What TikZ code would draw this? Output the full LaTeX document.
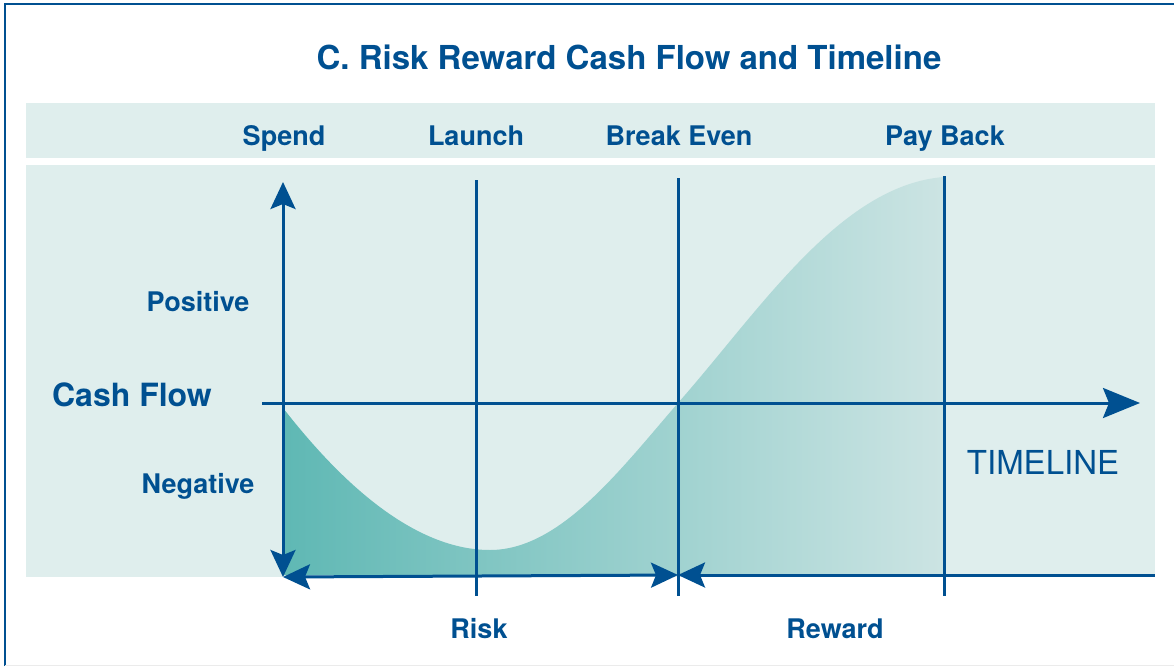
\documentclass[tikz,border=0pt]{standalone}
\usepackage{fontspec}
\setmainfont{TeX Gyre Heros}
\usetikzlibrary{arrows.meta,positioning}
\definecolor{cfblue}{RGB}{0,80,145}
\definecolor{cfband}{RGB}{223,238,237}
\definecolor{cfdark}{RGB}{95,184,180}
\definecolor{cflight}{RGB}{204,228,227}

\begin{document}
\begin{tikzpicture}[x=1pt,y=-1pt,
	lbl/.style={font=\fontsize{27}{30}\selectfont\bfseries,text=cfblue,inner sep=0pt,anchor=base},
	axis/.style={draw=cfblue,line width=3pt},
	cftip/.tip={Stealth[length=27pt,width=25pt,inset=5pt]},
	cfbig/.tip={Stealth[length=37pt,width=30pt,inset=6pt]}]
	\useasboundingbox (0,0) rectangle (1174,666);
	% frame and bands
	\draw[cfblue,line width=1.5pt] (5,666) -- (5,4) -- (1174,4);
	\draw[black!8,line width=1pt] (5,665) -- (1174,665);
	\fill[cfband] (26,103) rectangle (1155,158);
	\fill[cfband] (26,165) rectangle (1155,577);
	% cash flow curve
	\shade[left color=cfdark,right color=cflight] (283,408)
		.. controls (320,455) and (400,550) .. (490,550)
		.. controls (560,550) and (620,470) .. (678,403)
		.. controls (760,310) and (840,185) .. (944,177)
		-- (944,575) -- (283,575) -- cycle;
	% points
	\coordinate (bot) at (283,577);
	\coordinate (top) at (283,182);
	\coordinate (west) at (262,403);
	\coordinate (east) at (1140,403);
	\coordinate (be) at (678,575);
	\coordinate (end) at (1155,575);
	\coordinate (l1) at (476,180);
	\coordinate (l2) at (476,596);
	\coordinate (b1) at (678,178);
	\coordinate (b2) at (678,596);
	\coordinate (p1) at (944,176);
	\coordinate (p2) at (944,596);
	% axes
	\draw[axis,cftip-cftip] (bot) -- (top);
	\draw[axis,-cfbig] (west) -- (east);
	\draw[axis] (l1) -- (l2);
	\draw[axis] (b1) -- (b2);
	\draw[axis] (p1) -- (p2);
	\draw[axis,cftip-cftip] (bot) -- (be);
	\draw[axis,cftip-] (be) -- (end);
	% labels
	\node[lbl,font=\fontsize{33}{36}\selectfont\bfseries] (title) at (629,70) {C. Risk Reward Cash Flow and Timeline};
	\node[lbl] (spend) at (284,145) {Spend};
	\node[lbl] (launch) at (476,145) {Launch};
	\node[lbl] (breakeven) at (679,145) {Break Even};
	\node[lbl] (payback) at (945,145) {Pay Back};
	\node[lbl] (positive) at (198,311) {Positive};
	\node[lbl,font=\fontsize{32}{35}\selectfont\bfseries] (cashflow) at (132,406) {Cash Flow};
	\node[lbl] (negative) at (198,493) {Negative};
	\node[lbl,font=\fontsize{33}{36}\selectfont] (timeline) at (1043,474) {TIMELINE};
	\node[lbl] (risk) at (479,638) {Risk};
	\node[lbl] (reward) at (835,638) {Reward};
\end{tikzpicture}
\end{document}
